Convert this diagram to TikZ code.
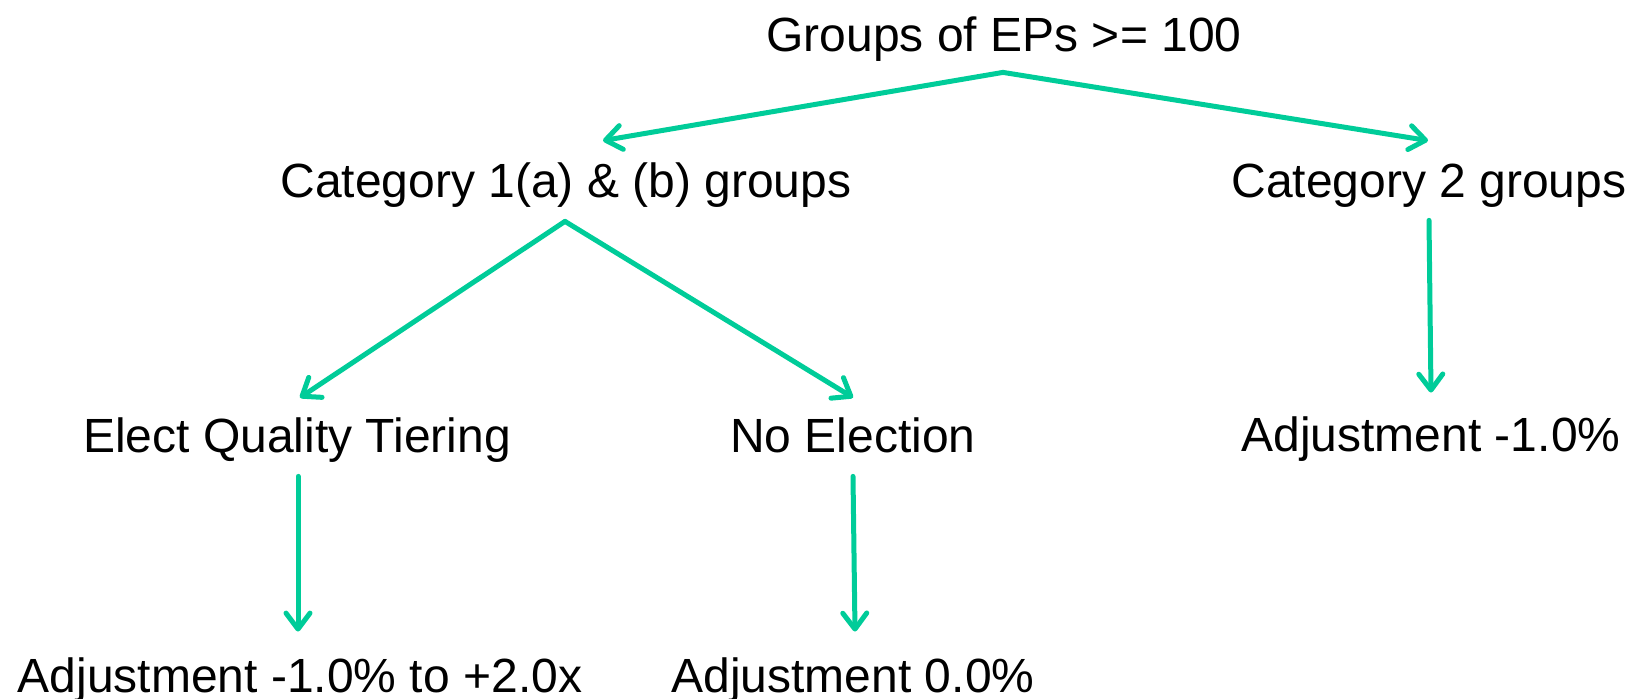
\documentclass[tikz,border=0pt]{standalone}
\usepackage{fontspec}
\setmainfont{Liberation Sans}
\usetikzlibrary{arrows.meta}

\definecolor{linkgreen}{RGB}{0,204,153}

\tikzset{
  every item/.style={inner sep=0pt, anchor=base, text height=17pt, text depth=5pt,
    font=\fontsize{24}{29}\selectfont},
  link/.style={draw=linkgreen, line width=2.5pt, line cap=round, line join=round,
    -{Straight Barb[length=8pt, width=12pt, round]}},
}

\begin{document}
\begin{tikzpicture}[x=0.5pt, y=-0.5pt]
\useasboundingbox (0,0) rectangle (1632,699);
\foreach \name/\x/\y/\txt in {%
    top/1004/52/Groups of EPs >= 100,
    cat1/566/198/Category 1(a) \& (b) groups,
    cat2/1429/198/Category 2 groups,
    elect/297/453/Elect Quality Tiering,
    noelect/853/453/No Election,
    adjcat2/1431/452/Adjustment -1.0\%,
    adjelect/300/692/Adjustment -1.0\% to +2.0x,
    adjnoelect/853/692/Adjustment 0.0\%}
  \node [every item/.try, item \name/.try] (\name) at (\x,\y) {\txt};

% first split
\coordinate (topfork) at ([shift={(-1,10)}]top.south);
\draw [link] (topfork) -- ([shift={(37,-23)}]cat1.north);
\draw [link] (topfork) -- ([shift={(-1,-23)}]cat2.north);
% category 1
\coordinate (catfork) at ([shift={(-1,13)}]cat1.south);
\draw [link] (catfork) -- ([shift={(3,-21)}]elect.north);
\draw [link] (catfork) -- ([shift={(0,-21)}]noelect.north);
% adjustments
\draw [link] ([shift={(0,12)}]cat2.south) -- ([shift={(0,-25)}]adjcat2.north);
\draw [link] ([shift={(1,13)}]elect.south) -- ([shift={(-2,-26)}]adjelect.north);
\draw [link] ([shift={(0,13)}]noelect.south) -- ([shift={(2,-26)}]adjnoelect.north);
\end{tikzpicture}
\end{document}
